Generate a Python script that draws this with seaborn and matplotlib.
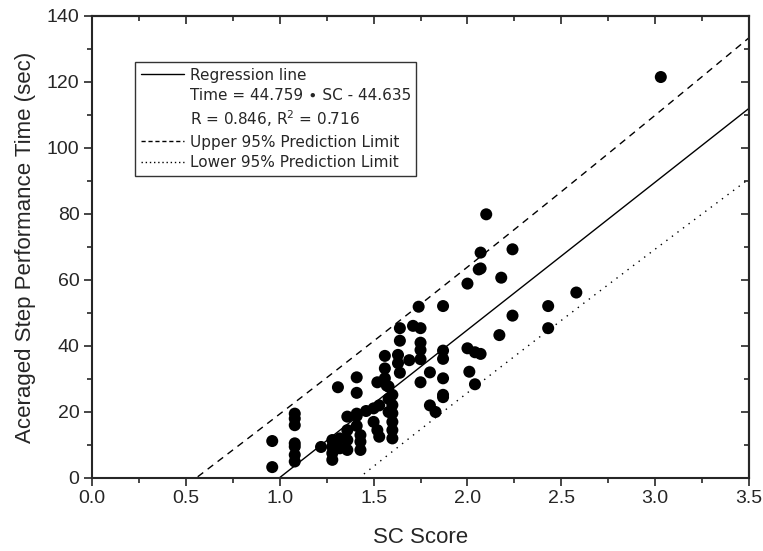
import numpy as np
import pandas as pd
import matplotlib
matplotlib.use('Agg')
import matplotlib.pyplot as plt
from matplotlib.lines import Line2D
from matplotlib.ticker import MultipleLocator, FormatStrFormatter
import seaborn as sns

# data
sc_score = [0.96, 0.96,
            1.08, 1.08, 1.08, 1.08, 1.08, 1.08, 1.08,
            1.22, 1.28, 1.28, 1.28, 1.28, 1.31, 1.32, 1.32,
            1.36, 1.36, 1.36, 1.36,
            1.41, 1.41, 1.41, 1.41, 1.41, 1.43, 1.43, 1.43,
            1.46, 1.50, 1.50, 1.52, 1.52, 1.53, 1.53,
            1.56, 1.56, 1.56, 1.57, 1.58, 1.58, 1.58,
            1.60, 1.60, 1.60, 1.60, 1.60, 1.60,
            1.63, 1.63, 1.64, 1.64, 1.64, 1.69,
            1.71, 1.74, 1.75, 1.75, 1.75, 1.75, 1.75,
            1.80, 1.80, 1.83,
            1.87, 1.87, 1.87, 1.87, 1.87, 1.87,
            2.00, 2.00, 2.01, 2.04, 2.04, 2.07,
            2.06, 2.07, 2.07, 2.10,
            2.17, 2.18, 2.24, 2.24, 2.43, 2.43, 2.58, 3.03]
step_time = [11.2, 3.3,
             19.5, 18.0, 16.0, 10.5, 9.5, 7.0, 5.0,
             9.4, 11.5, 9.5, 7.5, 5.5, 27.5, 12.0, 9.0,
             18.6, 14.5, 11.5, 8.5,
             30.5, 25.8, 19.5, 18.8, 15.8, 13.0, 11.0, 8.5,
             20.3, 21.1, 17.0, 29.0, 14.5, 12.5, 22.0,
             37.0, 33.2, 30.2, 28.0, 27.7, 24.0, 20.0,
             25.2, 22.1, 19.6, 17.0, 14.5, 12.0,
             37.3, 34.8, 31.9, 45.4, 41.6, 35.7,
             46.1, 51.9, 45.4, 41.0, 38.8, 36.0, 29.0,
             32.0, 22.0, 20.0,
             52.1, 38.6, 36.1, 30.2, 25.2, 24.5,
             58.9, 39.3, 32.2, 38.1, 28.4, 37.6,
             63.2, 63.5, 68.3, 79.9,
             43.3, 60.7, 69.3, 49.2, 52.1, 45.4, 56.2, 121.5]

slope = 44.759
intercept = -44.635
t_value = 1.984
resid_sd = 9.5

df = pd.DataFrame({'sc': sc_score, 'time': step_time})

# regression line and 95% prediction limits
n = len(df)
xbar = df['sc'].mean()
sxx = ((df['sc'] - xbar) ** 2).sum()
xs = np.linspace(0, 3.5, 300)
fit = slope * xs + intercept
hw = t_value * resid_sd * np.sqrt(1 + 1 / n + (xs - xbar) ** 2 / sxx)
lines = pd.DataFrame({'x': xs, 'fit': fit, 'upper': fit + hw, 'lower': fit - hw})

sns.set_style('ticks')
plt.rcParams['font.family'] = ['Liberation Sans', 'DejaVu Sans']

fig = plt.figure(figsize=(7.63, 5.51), dpi=100)
ax = fig.add_axes([0.1206, 0.1325, 0.8611, 0.8385])

sns.lineplot(data=lines, x='x', y='fit', ax=ax, color='black', lw=1.0)
sns.lineplot(data=lines, x='x', y='upper', ax=ax, color='black', lw=1.0,
             linestyle=(0, (5, 4)))
sns.lineplot(data=lines, x='x', y='lower', ax=ax, color='black', lw=1.0,
             linestyle=(0, (1, 4)))
sns.scatterplot(data=df, x='sc', y='time', ax=ax, color='black', s=75,
                edgecolor='none', zorder=3)

ax.set_xlim(0, 3.5)
ax.set_ylim(0, 140)
ax.xaxis.set_major_locator(MultipleLocator(0.5))
ax.xaxis.set_minor_locator(MultipleLocator(0.25))
ax.yaxis.set_major_locator(MultipleLocator(20))
ax.yaxis.set_minor_locator(MultipleLocator(10))
ax.xaxis.set_major_formatter(FormatStrFormatter('%.1f'))
ax.tick_params(which='major', direction='out', length=6, width=1.2,
               labelsize=14, pad=3)
ax.tick_params(which='minor', direction='out', length=3.5, width=1.2)
for sp in ax.spines.values():
    sp.set_linewidth(1.5)
    sp.set_visible(True)

# inward ticks on top and right
top = ax.secondary_xaxis('top')
top.xaxis.set_major_locator(MultipleLocator(0.5))
top.xaxis.set_minor_locator(MultipleLocator(0.25))
top.tick_params(which='major', direction='in', length=6, width=1.2, labeltop=False)
top.tick_params(which='minor', direction='in', length=3.5, width=1.2)
right = ax.secondary_yaxis('right')
right.yaxis.set_major_locator(MultipleLocator(20))
right.yaxis.set_minor_locator(MultipleLocator(10))
right.tick_params(which='major', direction='in', length=6, width=1.2, labelright=False)
right.tick_params(which='minor', direction='in', length=3.5, width=1.2)
for sa in (top, right):
    for sp in sa.spines.values():
        sp.set_linewidth(1.5)

ax.set_xlabel('SC Score', fontsize=16, labelpad=14)
ax.set_ylabel('Aceraged Step Performance Time (sec)', fontsize=16, labelpad=8)

handles = [Line2D([], [], color='black', lw=1.0),
           Line2D([], [], color='none'),
           Line2D([], [], color='none'),
           Line2D([], [], color='black', lw=1.0, linestyle=(0, (3, 2))),
           Line2D([], [], color='black', lw=1.0, linestyle=(0, (1, 2)))]
labels = ['Regression line',
          'Time = 44.759 \u2219 SC - 44.635',
          'R = 0.846, R$^2$ = 0.716',
          'Upper 95% Prediction Limit',
          'Lower 95% Prediction Limit']
leg = ax.legend(handles, labels, loc='upper left',
                bbox_to_anchor=(0.066, 0.9), frameon=True, fancybox=False,
                prop={'family': 'DejaVu Sans', 'size': 11},
                handlelength=2.8, handletextpad=0.4, labelspacing=0.36,
                borderpad=0.35, borderaxespad=0)
leg.get_frame().set_edgecolor('black')
leg.get_frame().set_linewidth(1.0)

fig.savefig('out.png', dpi=100)
